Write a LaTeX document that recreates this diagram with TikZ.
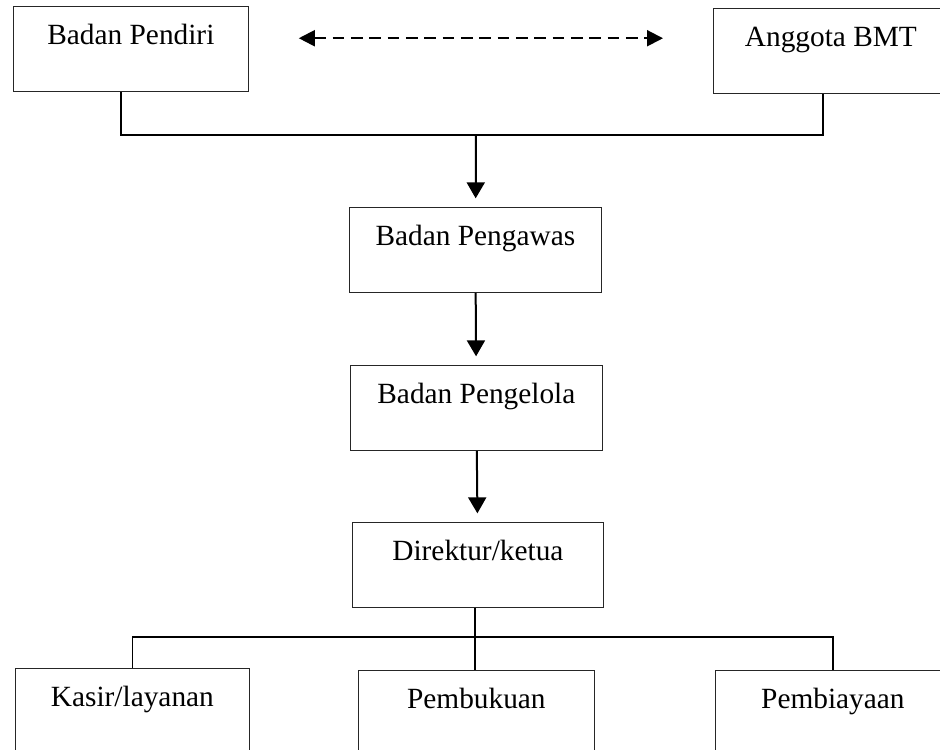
\documentclass[tikz,border=0pt]{standalone}
\usepackage{fontspec}
\setmainfont{Liberation Serif}
\usetikzlibrary{arrows.meta}

\begin{document}
\begin{tikzpicture}[x=0.75pt,y=-0.75pt,
  box/.style={shape=rectangle,draw=black!85,line width=0.6pt,anchor=north west,inner xsep=0pt,inner ysep=0pt,text height=28.5pt,text depth=35.25pt,font=\fontsize{22}{26}\selectfont},
  joinline/.style={line width=1.3pt},
  downarrow/.style={line width=1.5pt,-{Triangle[width=13.5pt,length=12pt]},shorten >=6.5pt}]
  \useasboundingbox (0,0) rectangle (940,750);
  \clip (0,0) rectangle (940,750);
  \node[box,minimum width=176.25pt] (pendiri) at (13,6) {Badan Pendiri};
  \node[box,minimum width=176.25pt] (anggota) at (713,8) {Anggota BMT};
  \node[box,minimum width=189pt] (pengawas) at (349,207) {Badan Pengawas};
  \node[box,minimum width=189pt] (pengelola) at (350,365) {Badan Pengelola};
  \node[box,minimum width=188.25pt] (direktur) at (352,522) {Direktur/ketua};
  \node[box,minimum width=175.5pt] (kasir) at (15,668) {Kasir/layanan};
  \node[box,minimum width=177pt] (pembukuan) at (358,670) {Pembukuan};
  \node[box,minimum width=176.25pt] (pembiayaan) at (715,670) {Pembiayaan};
  \coordinate (pendirijoin) at (121,135);
  \coordinate (anggotajoin) at (823,135);
  \coordinate (jtop) at (476,135);
  \coordinate (jbot) at (475,637);
  \draw[line width=1.5pt,dash pattern=on 8.75pt off 5pt,{Triangle[width=12pt,length=12pt]}-{Triangle[width=12pt,length=12pt]},shorten <=37.5pt,shorten >=37.5pt] ([yshift=8pt]pendiri.east) -- ([yshift=8pt]pendiri.east -| anggota.west);
  \draw[joinline] (pendiri.south -| pendirijoin) -- (pendirijoin) -- (anggotajoin) -- (anggota.south -| anggotajoin);
  \path[downarrow] (jtop) edge (pengawas) (pengawas) edge (pengelola) (pengelola) edge (direktur);
  \draw[joinline] (direktur.south -| jbot) -- (jbot);
  \draw[joinline] (kasir.north) |- (jbot) -| (pembiayaan.north);
  \draw[joinline] (jbot) -- (jbot |- pembukuan.north);
\end{tikzpicture}
\end{document}
